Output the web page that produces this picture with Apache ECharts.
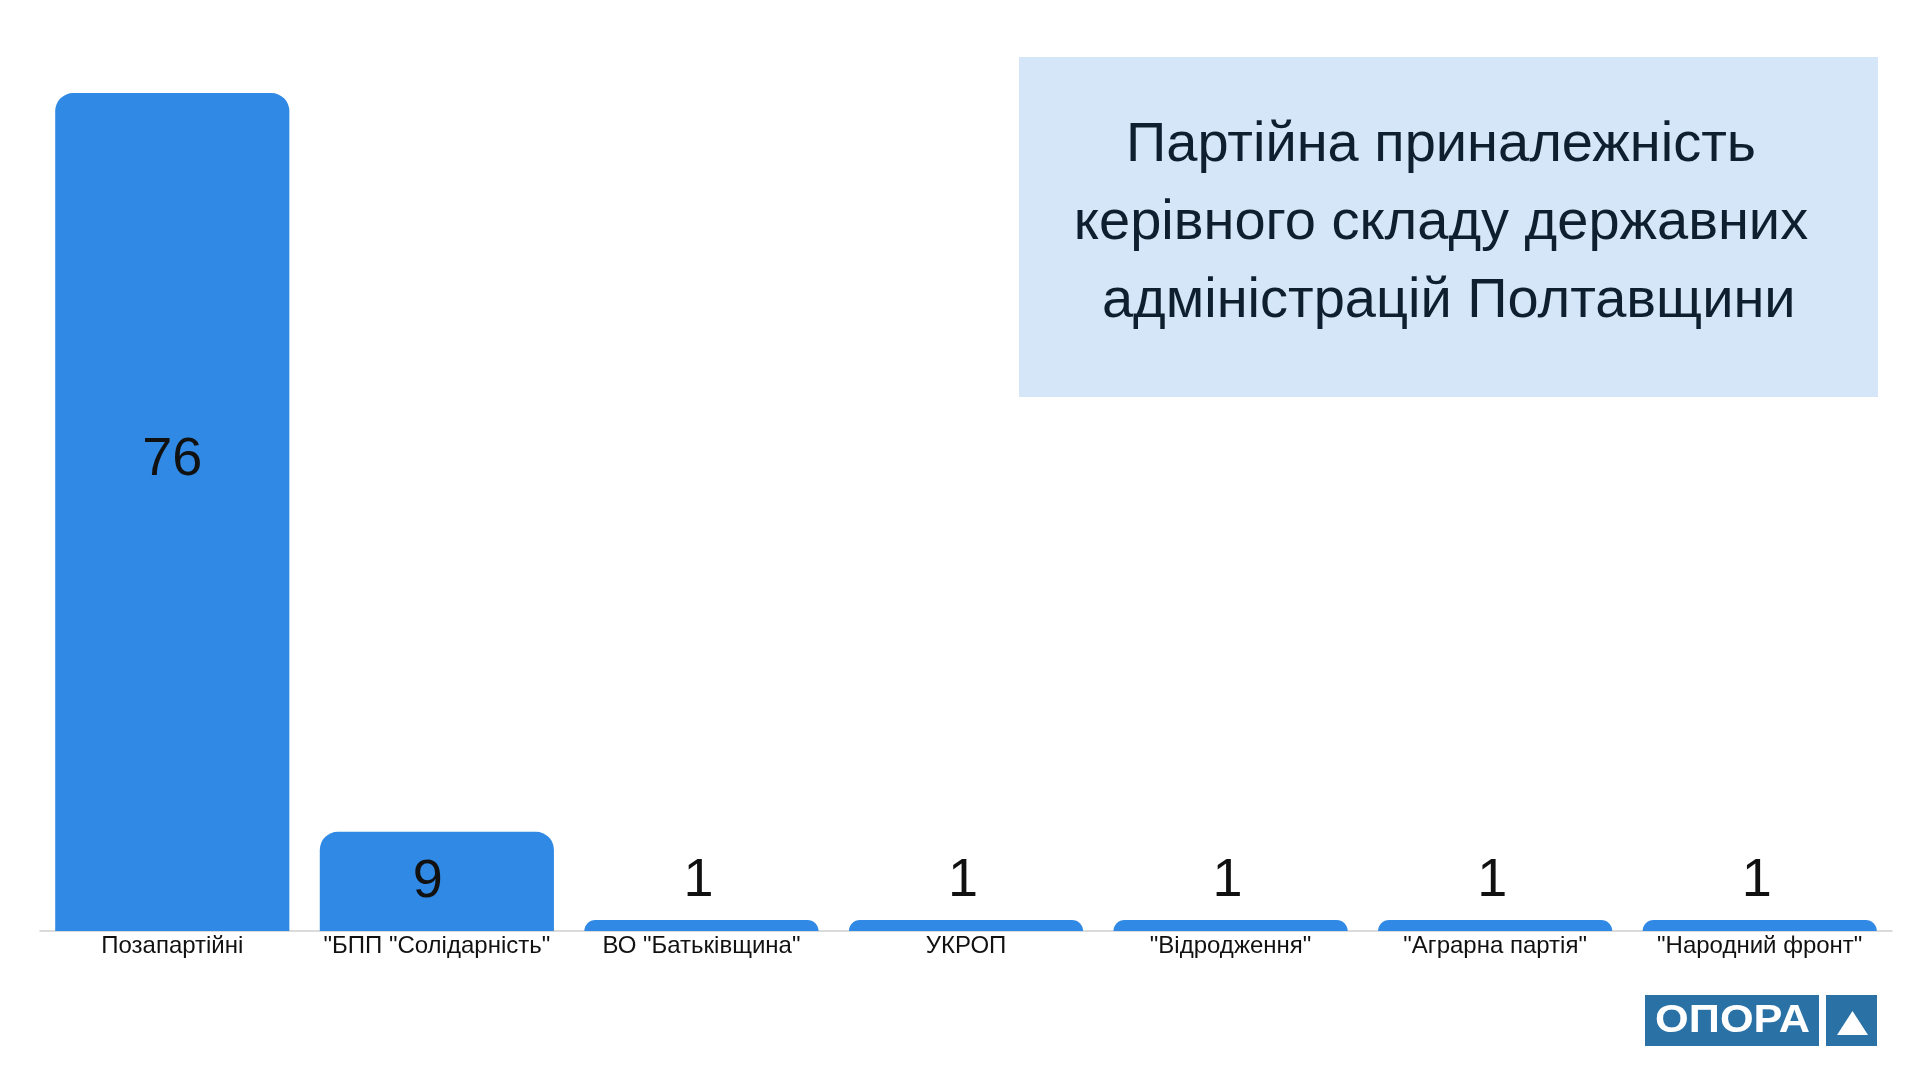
<!DOCTYPE html>
<html>
<head>
<meta charset="utf-8">
<script src="https://cdn.jsdelivr.net/npm/echarts@6/dist/echarts.min.js"></script>
<style>
html,body{margin:0;padding:0;background:#fff;}
#chart{width:1920px;height:1080px;}
</style>
</head>
<body>
<div id="chart"></div>
<script>
const categories = ['Позапартійні', '"БПП "Солідарність"', 'ВО "Батьківщина"', 'УКРОП', '"Відродження"', '"Аграрна партія"', '"Народний фронт"'];
const values = [76, 9, 1, 1, 1, 1, 1];
const titleLines = ['Партійна приналежність', 'керівного складу державних', ' адміністрацій Полтавщини'];
const logoText = 'ОПОРА';

const chart = echarts.init(document.getElementById('chart'));

function labelFor(v) {
  if (v >= 50) return { position: 'inside', offset: [0, -52] };
  if (v >= 5) return { position: 'inside', offset: [-9, 1] };
  return { position: 'top', distance: 12, offset: [-3, 0] };
}

const option = {
  backgroundColor: '#ffffff',
  animation: false,
  grid: { left: 40, right: 28, top: 49, bottom: 149, containLabel: false },
  xAxis: {
    type: 'category',
    data: categories,
    axisLine: { show: true, lineStyle: { color: '#d0d0d0', width: 1.5 } },
    axisTick: { show: false },
    axisLabel: {
      interval: 0, margin: 3,
      color: '#111111', fontSize: 24,
      fontFamily: 'Liberation Sans, Arial, sans-serif'
    }
  },
  yAxis: {
    type: 'value', min: 0, max: 80, interval: 20, show: false,
    splitLine: { show: false }
  },
  series: [{
    type: 'bar',
    data: values.map(v => ({ value: v, label: labelFor(v) })),
    barCategoryGap: '11.5%',
    itemStyle: { color: '#3089e4', borderRadius: [18, 18, 0, 0] },
    label: {
      show: true,
      color: '#111111', fontSize: 54,
      fontFamily: 'Liberation Sans, Arial, sans-serif'
    }
  }],
  graphic: [
    {
      type: 'rect', z: 10,
      shape: { x: 1019, y: 57, width: 859, height: 340 },
      style: { fill: '#d4e6f7' }
    },
    {
      type: 'text', z: 11, x: 1441, y: 224,
      style: {
        text: titleLines.join('\n'),
        fill: '#0f1f30', fontSize: 56, lineHeight: 78,
        fontFamily: 'Liberation Sans, Arial, sans-serif',
        align: 'center', verticalAlign: 'middle'
      }
    },
    {
      type: 'rect', z: 10,
      shape: { x: 1645, y: 995, width: 174, height: 51 },
      style: { fill: '#2a71a6' }
    },
    {
      type: 'rect', z: 10,
      shape: { x: 1826, y: 995, width: 51, height: 51 },
      style: { fill: '#2a71a6' }
    },
    {
      type: 'text', z: 11, x: 1732.5, y: 1022, scaleX: 1.14,
      style: {
        text: logoText, fill: '#ffffff', fontSize: 38, fontWeight: 'bold',
        fontFamily: 'Liberation Sans, Arial, sans-serif',
        align: 'center', verticalAlign: 'middle'
      }
    },
    {
      type: 'polygon', z: 11,
      shape: { points: [[1852.5, 1011], [1868, 1035], [1837, 1035]] },
      style: { fill: '#ffffff' }
    }
  ]
};
chart.setOption(option);
</script>
</body>
</html>
